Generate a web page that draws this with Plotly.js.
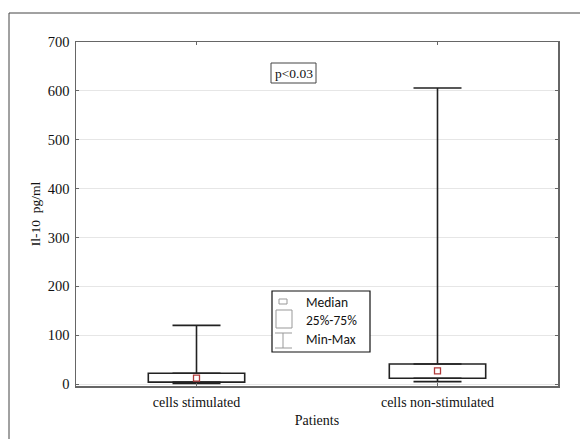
<!DOCTYPE html>
<html><head><meta charset="utf-8">
<script src="https://cdn.plot.ly/plotly-3.0.1.min.js"></script>
<style>html,body{margin:0;padding:0;background:#fff}#chart{width:580px;height:439px}</style>
</head><body><div id="chart"></div>
<script>
const categories = ["cells stimulated", "cells non-stimulated"];
const minVals = [1, 5];
const q1Vals = [4, 12];
const medianVals = [12, 27];
const q3Vals = [22, 41];
const maxVals = [120, 606];
const yTicks = [0, 100, 200, 300, 400, 500, 600, 700];

const W = 580, H = 439, mL = 76, mR = 22, mT = 42, mB = 53;
const pw = W - mL - mR, ph = H - mT - mB;
const px = x => (x - mL) / pw;
const py = y => (H - mB - y) / ph;

const serif = "'Liberation Serif', 'Times New Roman', serif";
const sans = "Carlito, Lato, 'Liberation Sans', sans-serif";

const traces = [
  {
    type: "bar", x: categories, base: q1Vals,
    y: q3Vals.map((v, i) => v - q1Vals[i]),
    width: 0.4, marker: {color: "#ffffff", line: {color: "#222", width: 1.6}},
    hoverinfo: "skip", showlegend: false
  },
  {
    type: "scatter", mode: "markers", x: categories, y: q3Vals,
    marker: {size: 1, color: "rgba(0,0,0,0)"},
    error_y: {type: "data", symmetric: false, array: maxVals.map((v, i) => v - q3Vals[i]),
      arrayminus: [0, 0], color: "#222", thickness: 1.6, width: 24},
    showlegend: false, hoverinfo: "skip"
  },
  {
    type: "scatter", mode: "markers", x: categories, y: q1Vals,
    marker: {size: 1, color: "rgba(0,0,0,0)"},
    error_y: {type: "data", symmetric: false, array: [0, 0],
      arrayminus: q1Vals.map((v, i) => v - minVals[i]), color: "#222", thickness: 1.6, width: 24},
    showlegend: false, hoverinfo: "skip"
  },
  {
    type: "scatter", mode: "markers", x: categories, y: medianVals,
    marker: {symbol: "square-open", size: 6, color: "#b03a3a", line: {width: 1.3}},
    showlegend: false
  }
];

const shapes = [
  {type: "rect", xref: "paper", yref: "paper", x0: px(9), x1: 1.3, y0: -0.5, y1: py(13),
   line: {color: "#444", width: 1}, layer: "below"},
  {type: "rect", xref: "paper", yref: "paper", x0: px(271), x1: px(316), y0: py(83), y1: py(63),
   line: {color: "#444", width: 1}, fillcolor: "#fff"},
  {type: "rect", xref: "paper", yref: "paper", x0: px(272), x1: px(370), y0: py(352), y1: py(291),
   line: {color: "#111", width: 1.2}, fillcolor: "#fff"},
  {type: "rect", xref: "paper", yref: "paper", x0: px(279), x1: px(287), y0: py(304), y1: py(299),
   line: {color: "#999", width: 1}},
  {type: "rect", xref: "paper", yref: "paper", x0: px(276), x1: px(292), y0: py(328), y1: py(310),
   line: {color: "#999", width: 1}},
  {type: "line", xref: "paper", yref: "paper", x0: px(275), x1: px(292), y0: py(333), y1: py(333),
   line: {color: "#999", width: 1}},
  {type: "line", xref: "paper", yref: "paper", x0: px(283), x1: px(283), y0: py(333), y1: py(348),
   line: {color: "#999", width: 1}},
  {type: "line", xref: "paper", yref: "paper", x0: px(275), x1: px(292), y0: py(348), y1: py(348),
   line: {color: "#999", width: 1}}
];

const annotations = [
  {xref: "paper", yref: "paper", x: px(293.5), y: py(73.5), text: "p<0.03", showarrow: false,
   font: {family: serif, size: 13.5, color: "#111"}, xanchor: "center", yanchor: "middle"},
  {xref: "paper", yref: "paper", x: px(304), y: py(302), text: "Median", showarrow: false,
   font: {family: sans, size: 13.5, color: "#111"}, xanchor: "left", yanchor: "middle"},
  {xref: "paper", yref: "paper", x: px(304), y: py(320), text: "25%-75%", showarrow: false,
   font: {family: sans, size: 13.5, color: "#111"}, xanchor: "left", yanchor: "middle"},
  {xref: "paper", yref: "paper", x: px(304), y: py(339), text: "Min-Max", showarrow: false,
   font: {family: sans, size: 13.5, color: "#111"}, xanchor: "left", yanchor: "middle"}
];

const layout = {
  width: W, height: H,
  margin: {l: mL, r: mR, t: mT, b: mB, pad: 0},
  paper_bgcolor: "#fff", plot_bgcolor: "#fff",
  showlegend: false,
  font: {family: serif, size: 13.5, color: "#111"},
  xaxis: {
    type: "category", range: [-0.5, 1.5], showgrid: false,
    showline: true, linecolor: "#666", linewidth: 1.5, mirror: "ticks",
    ticks: "inside", ticklen: 3, tickcolor: "#666",
    ticklabelstandoff: 3,
    tickfont: {family: serif, size: 14, color: "#111"},
    title: {text: "Patients", font: {family: serif, size: 14, color: "#111"}, standoff: 6},
    zeroline: false, fixedrange: true
  },
  yaxis: {
    range: [-4, 700], tickvals: yTicks, ticktext: yTicks.map(String),
    showgrid: true, gridcolor: "#e6e6e6", gridwidth: 1,
    showline: true, linecolor: "#666", linewidth: 1.5, mirror: "ticks",
    ticks: "inside", ticklen: 3, tickcolor: "#666",
    ticklabelstandoff: 2,
    tickfont: {family: serif, size: 14.5, color: "#111"},
    title: {text: "Il-10  pg/ml", font: {family: serif, size: 13.5, color: "#111"}, standoff: 4},
    zeroline: false, fixedrange: true
  },
  bargap: 0,
  shapes: shapes, annotations: annotations
};

Plotly.newPlot("chart", traces, layout, {staticPlot: true, displayModeBar: false});
</script></body></html>
